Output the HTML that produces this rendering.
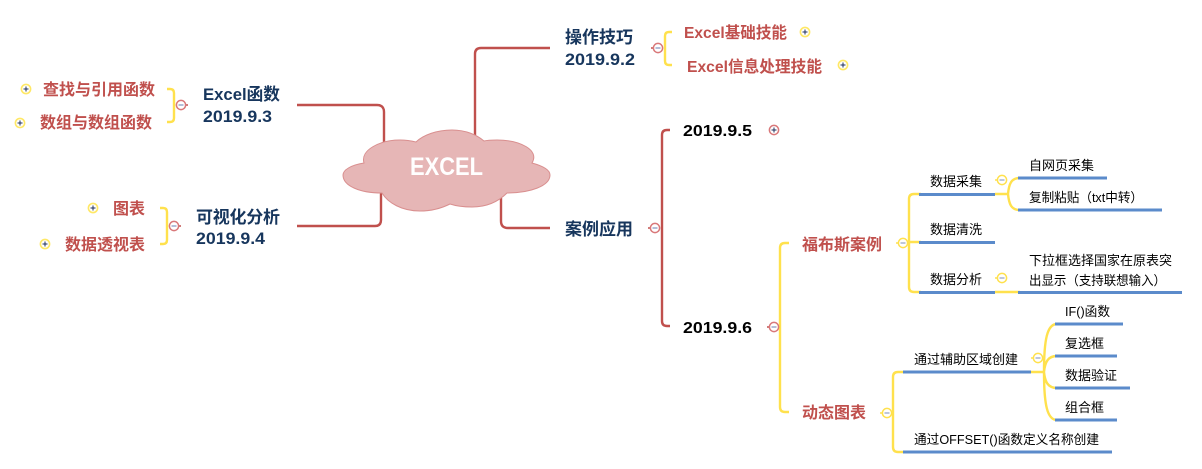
<!DOCTYPE html>
<html lang="zh">
<head>
<meta charset="utf-8">
<style>
html,body{margin:0;padding:0;background:#fff;width:1202px;height:469px;overflow:hidden}
svg{display:block}
text{font-family:"Liberation Sans","Noto Sans CJK SC",sans-serif;white-space:pre}
.m{font-size:17px;font-weight:bold;fill:#17365d}
.r{font-size:16px;font-weight:bold;fill:#c0504d}
.d{font-size:16px;font-weight:bold;fill:#000}
.s{font-size:13px;fill:#000}
.w{font-size:25px;font-weight:bold;fill:#fff}
.red{fill:none;stroke:#c0504d;stroke-width:2.4}
.yel{fill:none;stroke:#ffe14d;stroke-width:2.4}
.blu{fill:none;stroke:#5b8bcb;stroke-width:3}
</style>
</head>
<body>
<svg width="1202" height="469" viewBox="0 0 1202 469" xmlns="http://www.w3.org/2000/svg">
<defs>
<g id="ym"><line x1="-7" y1="0" x2="-4" y2="0" stroke="#ffe14d" stroke-width="1.5"/><circle r="4.6" fill="#fff" stroke="#ffe14d" stroke-width="1.5"/><line x1="-2.5" y1="0" x2="2.5" y2="0" stroke="#7d8fb5" stroke-width="1"/></g>
<g id="rm"><line x1="-7" y1="0" x2="-4" y2="0" stroke="#c0504d" stroke-width="1.5"/><circle r="4.6" fill="#fff" stroke="#d9787a" stroke-width="1.5"/><line x1="-2.5" y1="0" x2="2.5" y2="0" stroke="#6a7db0" stroke-width="1"/></g>
<g id="rml"><line x1="4" y1="0" x2="7" y2="0" stroke="#c0504d" stroke-width="1.5"/><circle r="4.6" fill="#fff" stroke="#d9787a" stroke-width="1.5"/><line x1="-2.5" y1="0" x2="2.5" y2="0" stroke="#6a7db0" stroke-width="1"/></g>
<g id="yp"><circle r="4.6" fill="#fff" stroke="#ffe866" stroke-width="1.6"/><path d="M-2.500 0H2.500M0 -2.500V2.500" stroke="#1f2f5c" stroke-width="1"/></g>
<g id="rp"><circle r="4.6" fill="#fff" stroke="#d9787a" stroke-width="1.5"/><path d="M-2.500 0H2.500M0 -2.500V2.500" stroke="#1f2f5c" stroke-width="1"/></g>
</defs>

<!-- main connectors -->
<path class="red" d="M297 105H377Q384 105 384 112V145"/>
<path class="red" d="M297 226H375Q381 226 381 220V190"/>
<path class="red" d="M550 48H481Q475 48 475 54V137"/>
<path class="red" d="M550 228H508Q501 228 501 221V198"/>

<!-- cloud -->
<path d="M364 163C360 150 380 140 400 140C407 140 412 141 416 142C423 135 437 130 452 130C466 130 477 135 484 141C488 140 492 140 497 140C520 140 540 150 532 163C543 166 550 170 550 175C550 186 530 193 507 193C498 202 486 207 472 207C463 207 456 206 450 204C442 208 432 211 420 211C402 211 388 203 382 193C360 193 343 186 343 175C343 170 351 165 364 163Z" fill="#e6b6b6" stroke="#d98f8f" stroke-width="1"/>
<text class="w" x="410" y="175" textLength="73" lengthAdjust="spacingAndGlyphs">EXCEL</text>

<!-- left brackets -->
<path class="yel" d="M167 89H170Q174 89 174 93V118Q174 122 170 122H167"/>
<path class="yel" d="M160 208H163Q167 208 167 212V240Q167 244 163 244H160"/>
<use href="#rml" x="181" y="105"/>
<use href="#rml" x="174" y="226"/>
<path class="yel" d="M672 32H669Q665 32 665 36V61Q665 65 669 65H672"/>
<use href="#rm" x="658" y="48"/>

<!-- left text -->
<text class="r" x="43" y="95" textLength="112">查找与引用函数</text>
<text class="r" x="40" y="128" textLength="112">数组与数组函数</text>
<text class="m" x="203" y="100" textLength="77" lengthAdjust="spacingAndGlyphs">Excel函数</text>
<text class="m" x="203" y="122" textLength="69" lengthAdjust="spacingAndGlyphs">2019.9.3</text>
<text class="m" x="196" y="223" textLength="84">可视化分析</text>
<text class="m" x="196" y="244" textLength="69" lengthAdjust="spacingAndGlyphs">2019.9.4</text>
<text class="r" x="113" y="214" textLength="32">图表</text>
<text class="r" x="65" y="250" textLength="80">数据透视表</text>
<use href="#yp" x="26" y="89"/>
<use href="#yp" x="20" y="123"/>
<use href="#yp" x="93" y="208"/>
<use href="#yp" x="45" y="244"/>

<!-- top right -->
<text class="m" x="565" y="43" textLength="68">操作技巧</text>
<text class="m" x="565" y="65" textLength="70" lengthAdjust="spacingAndGlyphs">2019.9.2</text>
<text class="r" x="684" y="38" textLength="103" lengthAdjust="spacingAndGlyphs">Excel基础技能</text>
<text class="r" x="687" y="72" textLength="135" lengthAdjust="spacingAndGlyphs">Excel信息处理技能</text>
<use href="#yp" x="805" y="32"/>
<use href="#yp" x="843" y="65"/>

<!-- case -->
<text class="m" x="565" y="235" textLength="68">案例应用</text>
<path class="red" d="M670 130H667Q662 130 662 135V321Q662 326 667 326H670"/>
<use href="#rm" x="655" y="228"/>
<text class="d" x="683" y="136" textLength="69" lengthAdjust="spacingAndGlyphs">2019.9.5</text>
<text class="d" x="683" y="333" textLength="69" lengthAdjust="spacingAndGlyphs">2019.9.6</text>
<use href="#rp" x="774" y="130"/>

<path class="yel" d="M789 243H785Q780 243 780 248V407Q780 412 785 412H789"/>
<use href="#rm" x="774" y="327"/>
<text class="r" x="802" y="250" textLength="80">福布斯案例</text>
<text class="r" x="802" y="418" textLength="64">动态图表</text>

<!-- forbes branch -->
<path class="yel" d="M921 194H914Q909 194 909 199V287Q909 292 914 292H921M907 242H921"/>
<path class="yel" d="M995 194H1008M1020 178C1011 178 1009 184 1008 194C1009 204 1011 210 1020 210"/>
<path class="yel" d="M995 292H1020"/>
<path class="blu" d="M919 194.500H995M919 242.500H995M919 292.500H995M1018 178H1107M1018 210H1162M1018 292.500H1182"/>
<use href="#ym" x="903" y="243"/>
<use href="#ym" x="1002" y="180"/>
<use href="#ym" x="1002" y="278"/>
<text class="s" x="930" y="186" textLength="52">数据采集</text>
<text class="s" x="930" y="234" textLength="52">数据清洗</text>
<text class="s" x="930" y="284" textLength="52">数据分析</text>
<text class="s" x="1029" y="170" textLength="65">自网页采集</text>
<text class="s" x="1029" y="202" textLength="114" lengthAdjust="spacingAndGlyphs">复制粘贴（txt中转）</text>
<text class="s" x="1029" y="265" textLength="143">下拉框选择国家在原表突</text>
<text class="s" x="1029" y="285" textLength="137" lengthAdjust="spacingAndGlyphs">出显示（支持联想输入）</text>

<!-- dynamic chart branch -->
<path class="yel" d="M905 372H898Q893 372 893 377V447Q893 452 898 452H905M885 413H893"/>
<path class="yel" d="M1031 372H1044M1057 324C1047 324 1044 340 1044 372C1044 404 1047 420 1057 420M1057 356C1048 356 1045 362 1044 372C1045 382 1048 388 1057 388"/>
<path class="blu" d="M903 372H1031M903 452H1112M1055 324H1123M1055 356H1117M1055 388H1130M1055 420H1117"/>
<use href="#ym" x="887" y="413"/>
<use href="#ym" x="1038" y="358"/>
<text class="s" x="914" y="364" textLength="104">通过辅助区域创建</text>
<text class="s" x="914" y="444" textLength="185" lengthAdjust="spacingAndGlyphs">通过OFFSET()函数定义名称创建</text>
<text class="s" x="1065" y="316" textLength="45" lengthAdjust="spacingAndGlyphs">IF()函数</text>
<text class="s" x="1065" y="348" textLength="39">复选框</text>
<text class="s" x="1065" y="380" textLength="52">数据验证</text>
<text class="s" x="1065" y="412" textLength="39">组合框</text>
</svg>
</body>
</html>
